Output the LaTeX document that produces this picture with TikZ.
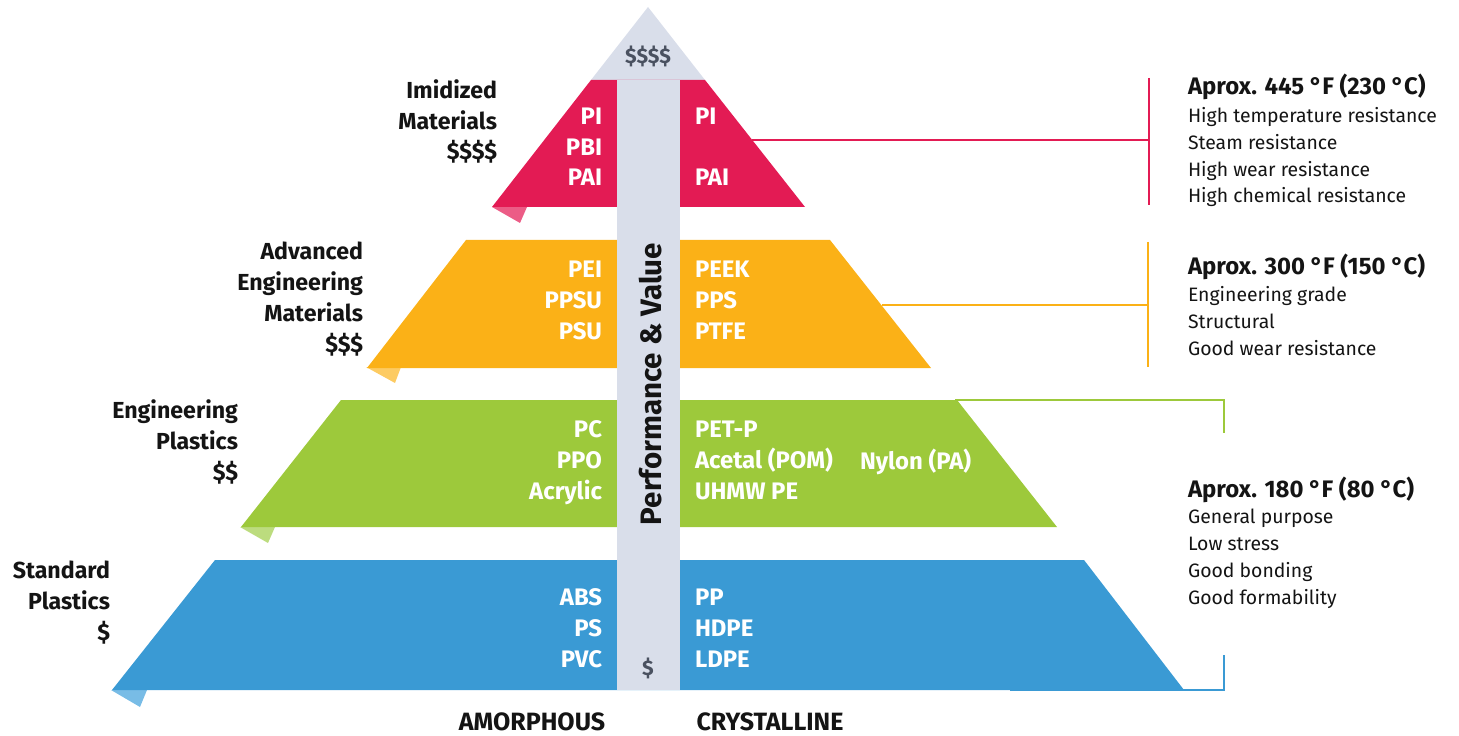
\documentclass[tikz,border=0pt]{standalone}
\usepackage{fontspec}
\setmainfont{Fira Sans}
\usetikzlibrary{positioning}
\definecolor{imidred}{HTML}{E31B54}
\definecolor{imidfold}{HTML}{EC5C86}
\definecolor{advorange}{HTML}{FBB117}
\definecolor{advfold}{HTML}{FDCB62}
\definecolor{enggreen}{HTML}{9DC93B}
\definecolor{engfold}{HTML}{BCDC7E}
\definecolor{stdblue}{HTML}{3A9AD4}
\definecolor{stdfold}{HTML}{78BCE6}
\definecolor{colgray}{HTML}{D9DEEA}
\definecolor{dollargray}{HTML}{4A5160}
\definecolor{ink}{HTML}{141414}

\begin{document}
\begin{tikzpicture}[x=0.25mm, y=-0.25mm,
  every node/.style={inner sep=0pt, outer sep=0pt},
  tierlabel/.style={font=\fontsize{16.5}{22}\selectfont\bfseries, text=ink, align=right, anchor=base east},
  leftpoly/.style={font=\fontsize{17}{21.8}\selectfont\bfseries, text=white, align=right, anchor=base east},
  rightpoly/.style={font=\fontsize{17}{21.8}\selectfont\bfseries, text=white, align=left, anchor=base west},
  headtemp/.style={font=\fontsize{17}{19}\selectfont\bfseries, text=ink, anchor=base west},
  proplist/.style={font=\fontsize{13.8}{19}\selectfont, text=ink, align=left, anchor=base west},
  bracket/.style={line width=0.55mm},
  axislabel/.style={font=\fontsize{17.8}{20}\selectfont\bfseries, text=ink, anchor=base}]

\useasboundingbox (0,0) rectangle (1459,736);

% gray tip and folds
\fill[colgray] (648,7) -- (705,80) -- (591,80) -- cycle;
\fill[imidfold] (492,207) -- (527,207) -- (520,223) -- cycle;
\fill[advfold] (366,367) -- (401,367) -- (395,383) -- cycle;
\fill[engfold] (240,527) -- (275,527) -- (268,543) -- cycle;
\fill[stdfold] (111,690) -- (147,690) -- (140,707) -- cycle;

% bands
\fill[imidred] (591,80) -- (705,80) -- (805,207) -- (492,207) -- cycle;
\fill[advorange] (466,240) -- (830,240) -- (931,368) -- (367,368) -- cycle;
\fill[enggreen] (341,400) -- (957,400) -- (1057,527) -- (241,527) -- cycle;
\fill[stdblue] (215,560) -- (1084,560) -- (1184,690) -- (112,690) -- cycle;

% value column
\fill[colgray] (617,80) rectangle (680,690);
\node[font=\fontsize{15}{18}\selectfont\bfseries, text=dollargray, anchor=base] (topcost) at (648,64) {\$\$\$\$};
\node[font=\fontsize{15}{18}\selectfont\bfseries, text=dollargray, anchor=base] (lowcost) at (648,675) {\$};
\node[font=\fontsize{21}{24}\selectfont\bfseries, text=ink, rotate=90, anchor=base] (perf) at (661,384) {Performance \& Value};

% tier names (last baseline)
\node[tierlabel] (imid) at (497,160) {Imidized\\Materials\\\$\$\$\$};
\node[tierlabel] (adv) at (363,352) {Advanced\\Engineering\\Materials\\\$\$\$};
\node[tierlabel] (eng) at (238,480) {Engineering\\Plastics\\\$\$};
\node[tierlabel] (std) at (110,640) {Standard\\Plastics\\\$};

% materials
\node[leftpoly] (imidA) at (602,186) {PI\\PBI\\PAI};
\node[rightpoly] (imidC) at (695,186) {PI\\\mbox{}\\PAI};
\node[leftpoly] (advA) at (602,339) {PEI\\PPSU\\PSU};
\node[rightpoly] (advC) at (695,339) {PEEK\\PPS\\PTFE};
\node[leftpoly] (engA) at (602,499) {PC\\PPO\\Acrylic};
\node[rightpoly] (engC) at (695,499) {PET-P\\Acetal (POM)\\UHMW PE};
\node[rightpoly] (nylon) at (860,469) {Nylon (PA)};
\node[leftpoly] (stdA) at (602,667) {ABS\\PS\\PVC};
\node[rightpoly] (stdC) at (695,667) {PP\\HDPE\\LDPE};

% axis
\node[axislabel] (amorph) at (532,730) {AMORPHOUS};
\node[axislabel] (cryst) at (770,730) {CRYSTALLINE};

% temperature notes
\node[headtemp] (t230) at (1188,95) {Aprox. 445 °F (230 °C)};
\node[proplist] (p230) at (1188,203) {High temperature resistance\\Steam resistance\\High wear resistance\\High chemical resistance};
\node[headtemp] (t150) at (1188,275) {Aprox. 300 °F (150 °C)};
\node[proplist] (p150) at (1188,355) {Engineering grade\\Structural\\Good wear resistance};
\node[headtemp] (t80) at (1188,497) {Aprox. 180 °F (80 °C)};
\node[proplist] (p80) at (1188,604) {General purpose\\Low stress\\Good bonding\\Good formability};

% brackets
\coordinate (redEdge) at (752,140);
\coordinate (redMid) at (1149,140);
\draw[bracket, imidred] (redEdge) -- (redMid);
\draw[bracket, imidred] (1149,78) coordinate (redTop) -- (1149,205) coordinate (redBot);
\coordinate (orgEdge) at (882,305);
\coordinate (orgMid) at (1148,305);
\draw[bracket, advorange] (orgEdge) -- (orgMid);
\draw[bracket, advorange] (1148,242) coordinate (orgTop) -- (1148,367) coordinate (orgBot);
\coordinate (grnEdge) at (955,400);
\coordinate (grnCorner) at (1224,400);
\coordinate (grnEnd) at (1224,433);
\draw[bracket, enggreen] (grnEdge) -- (grnCorner) -- (grnEnd);
\coordinate (bluEdge) at (1010,690);
\coordinate (bluCorner) at (1224,690);
\coordinate (bluEnd) at (1224,655);
\draw[bracket, stdblue] (bluEdge) -- (bluCorner) -- (bluEnd);
\end{tikzpicture}
\end{document}
